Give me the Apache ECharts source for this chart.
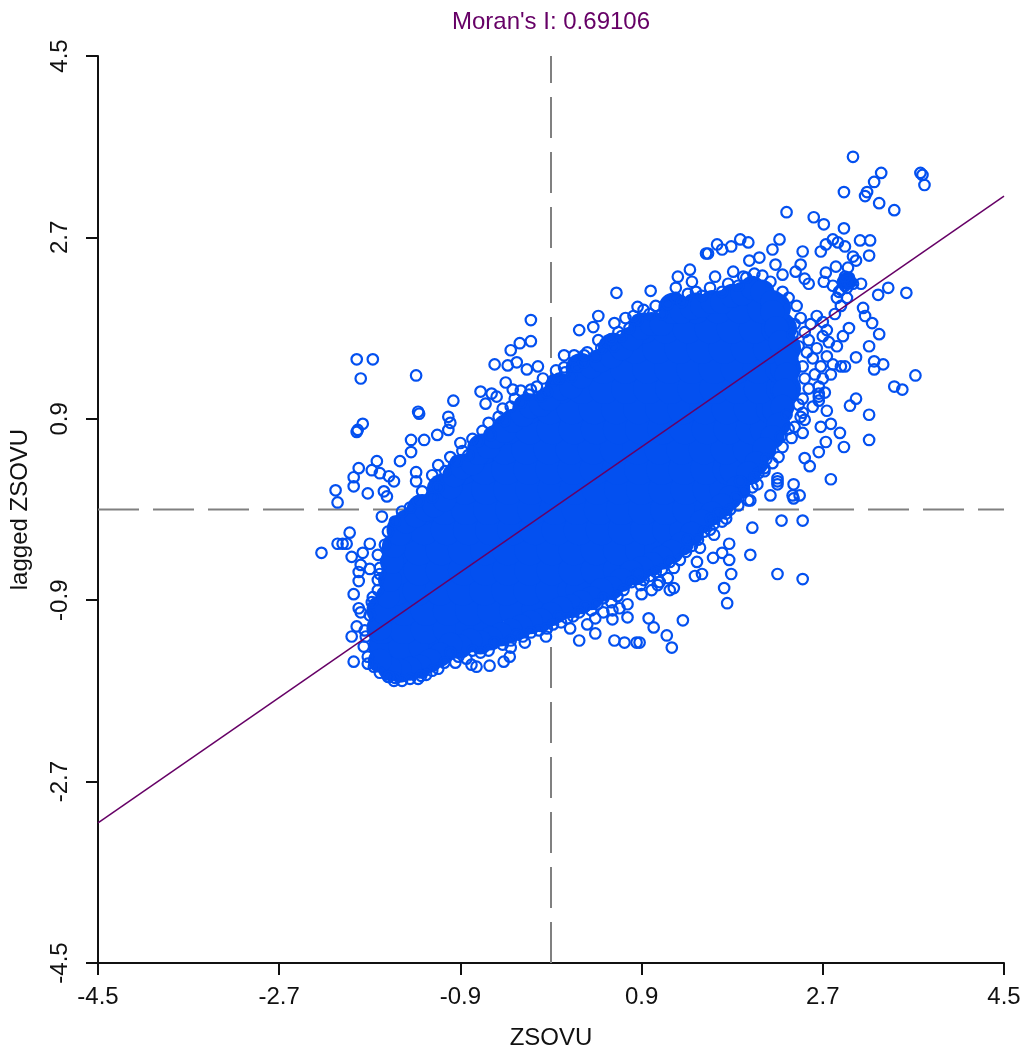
<!DOCTYPE html>
<html>
<head>
<meta charset="utf-8">
<title>Moran's I scatter</title>
<script src="https://cdn.jsdelivr.net/npm/echarts@6/dist/echarts.min.js"></script>
<style>
    html, body { margin: 0; padding: 0; background: #fff; }
    #chart { width: 1024px; height: 1055px; }
</style>
</head>
<body>
<div id="chart"></div>
<script>
// Tick labels
const xTicks = [-4.5, -2.7, -0.9, 0.9, 2.7, 4.5];
const yTicks = [-4.5, -2.7, -0.9, 0.9, 2.7, 4.5];

// Regression line and the two mean lines, ends
const fitLine = [[-4.5, -3.11], [4.5, 3.11]];
const meanLineH = [[-4.5, 0], [4.5, 0]];
const meanLineV = [[0, -4.5], [0, 4.5]];

// Solid middle of the cloud, too dense to read one by one: [y, [x, x, ...]] per row
const coreRows = [
    [-1.5, [-1.58, -1.38]],
    [-1.36, [-1.66, -1.46, -1.26, -1.06]],
    [-1.18, [-1.68, -1.46, -1.24, -1.02, -0.8, -0.62]],
    [-1, [-1.68, -1.46, -1.24, -1.02, -0.8, -0.58, -0.36, -0.14]],
    [-0.8, [-1.54, -1.32, -1.1, -0.88, -0.66, -0.44, -0.22, 0, 0.22, 0.3]],
    [-0.6, [-1.53, -1.31, -1.09, -0.87, -0.65, -0.43, -0.21, 0.01, 0.23, 0.45, 0.67, 0.83]],
    [-0.4, [-1.53, -1.31, -1.09, -0.87, -0.65, -0.43, -0.21, 0.01, 0.23, 0.45, 0.67, 0.89, 1.08]],
    [-0.2, [-1.48, -1.26, -1.04, -0.82, -0.6, -0.38, -0.16, 0.06, 0.28, 0.5, 0.72, 0.94, 1.16, 1.33]],
    [0, [-1.28, -1.06, -0.84, -0.62, -0.4, -0.18, 0.04, 0.26, 0.48, 0.7, 0.92, 1.14, 1.36, 1.58]],
    [0.2, [-1.08, -0.86, -0.64, -0.42, -0.2, 0.02, 0.24, 0.46, 0.68, 0.9, 1.12, 1.34, 1.56, 1.73]],
    [0.4, [-0.88, -0.66, -0.44, -0.22, 0, 0.22, 0.44, 0.66, 0.88, 1.1, 1.32, 1.54, 1.76, 1.83]],
    [0.6, [-0.68, -0.46, -0.24, -0.02, 0.2, 0.42, 0.64, 0.86, 1.08, 1.3, 1.52, 1.74, 1.96]],
    [0.8, [-0.43, -0.21, 0.01, 0.23, 0.45, 0.67, 0.89, 1.11, 1.33, 1.55, 1.77, 1.99, 2.13]],
    [1, [-0.23, -0.01, 0.21, 0.43, 0.65, 0.87, 1.09, 1.31, 1.53, 1.75, 1.97, 2.19, 2.25]],
    [1.2, [0.09, 0.31, 0.53, 0.75, 0.97, 1.19, 1.41, 1.63, 1.85, 2.07, 2.29, 2.33]],
    [1.4, [0.3, 0.52, 0.74, 0.96, 1.18, 1.4, 1.62, 1.84, 2.06, 2.28, 2.33]],
    [1.6, [0.62, 0.84, 1.06, 1.28, 1.5, 1.72, 1.94, 2.16, 2.33]],
    [1.8, [0.92, 1.14, 1.36, 1.58, 1.8, 2.02, 2.24, 2.29]],
    [2, [1.22, 1.44, 1.66, 1.88, 2.1, 2.23]]
];

// Solid band just inside the rim, where the circles merge
const rimInner = [
    [-1.7, -1.18], [-1.66, -1.02], [-1.62, -0.86], [-1.6, -0.7], [-1.58, -0.52], [-1.56, -0.36], [-1.5, -0.24],
    [-1.44, -0.12], [-1.34, -0.06], [-1.24, 0], [-1.16, 0.04], [-1.06, 0.1], [-1, 0.22], [-0.96, 0.34],
    [-0.88, 0.42], [-0.78, 0.46], [-0.72, 0.56], [-0.62, 0.62], [-0.56, 0.72], [-0.46, 0.78], [-0.38, 0.88],
    [-0.28, 0.94], [-0.2, 1.02], [-0.1, 1.04], [-0.02, 1.1], [0.1, 1.2], [0.2, 1.22], [0.3, 1.32],
    [0.4, 1.42], [0.5, 1.48], [0.6, 1.52], [0.7, 1.6], [0.8, 1.7], [0.9, 1.8], [1, 1.84],
    [1.1, 1.84], [1.2, 1.96], [1.3, 1.96], [1.4, 2], [1.5, 2.02], [1.6, 2.06], [1.7, 2.06],
    [1.8, 2.12], [1.9, 2.14], [2, 2.2], [2.1, 2.16], [2.2, 2.06], [2.2, 1.96], [2.24, 1.8],
    [2.28, 1.66], [2.34, 1.5], [2.34, 1.34], [2.32, 1.18], [2.3, 1.02], [2.26, 0.84], [2.2, 0.72],
    [2.12, 0.6], [2.04, 0.46], [1.96, 0.36], [1.86, 0.22], [1.78, 0.12], [1.7, 0.04], [1.6, -0.04],
    [1.5, -0.12], [1.4, -0.24], [1.3, -0.34], [1.2, -0.42], [1.1, -0.48], [1, -0.54], [0.9, -0.58],
    [0.8, -0.62], [0.7, -0.7], [0.6, -0.78], [0.5, -0.8], [0.4, -0.88], [0.3, -0.92], [0.2, -0.96],
    [0.1, -0.98], [0, -1.04], [-0.1, -1.1], [-0.2, -1.12], [-0.3, -1.16], [-0.4, -1.2], [-0.5, -1.24],
    [-0.6, -1.28], [-0.7, -1.32], [-0.8, -1.3], [-0.9, -1.36], [-1, -1.34], [-1.1, -1.44], [-1.2, -1.5],
    [-1.3, -1.56], [-1.4, -1.58], [-1.5, -1.6], [-1.6, -1.58], [-1.7, -1.5]
];

// Solid clump of overlapping circles at the upper right
const clumpPoints = [[2.94, 2.27]];

// Rim of the cloud, upper side from left to right
const rimUpper = [
    [-1.85, -1.2], [-1.8, -1.05], [-1.78, -0.92], [-1.72, -0.8], [-1.72, -0.7], [-1.7, -0.58], [-1.72, -0.45],
    [-1.65, -0.35], [-1.62, -0.22], [-1.55, -0.12], [-1.48, -0.02], [-1.4, 0.02], [-1.32, 0.08], [-1.28, 0.18],
    [-1.18, 0.12], [-1.12, 0.22], [-1.18, 0.34], [-1.12, 0.44], [-1.05, 0.38], [-1, 0.52], [-0.94, 0.48],
    [-0.88, 0.58], [-0.82, 0.54], [-0.9, 0.66], [-0.78, 0.7], [-0.72, 0.68], [-0.68, 0.78], [-0.6, 0.74],
    [-0.62, 0.86], [-0.52, 0.92], [-0.46, 0.88], [-0.48, 1], [-0.4, 1.02], [-0.36, 1.1], [-0.3, 1.06],
    [-0.3, 1.18], [-0.22, 1.14], [-0.14, 1.22], [-0.1, 1.12], [-0.04, 1.16], [0.02, 1.28], [0.08, 1.3],
    [0.14, 1.36], [0.2, 1.32], [0.26, 1.42], [0.32, 1.46], [0.36, 1.56], [0.44, 1.52], [0.5, 1.6],
    [0.56, 1.66], [0.62, 1.62], [0.7, 1.72], [0.78, 1.8], [0.74, 1.9], [0.86, 1.88], [0.92, 1.98],
    [0.98, 1.94], [1.04, 2.02], [1.1, 1.94], [1.16, 2.04], [1.24, 2.1], [1.3, 2.06], [1.36, 2.14],
    [1.44, 2.16], [1.5, 2.12], [1.58, 2.2], [1.7, 2.16], [1.76, 2.24], [1.86, 2.22], [1.94, 2.3],
    [2.02, 2.34], [2.1, 2.32], [2.18, 2.26]
];

// Rim of the cloud, right end including the loose clump near (2.9, 2.2)
const rimRight = [
    [2.3, 2.16], [2.36, 2.1], [2.44, 2.02], [2.48, 1.9], [2.42, 1.84], [2.52, 1.76], [2.58, 1.84],
    [2.64, 1.92], [2.7, 1.86], [2.74, 1.78], [2.82, 1.94], [2.88, 2.02], [2.94, 2.1], [2.86, 2.16],
    [2.8, 2.22], [2.92, 2.22], [2.9, 2.26], [2.96, 2.3], [3, 2.24], [2.94, 2.2], [2.88, 2.18], [2.84, 2.1],
    [2.94, 2.27], [2.97, 2.25], [2.92, 2.31], [2.56, 1.68], [2.64, 1.6], [2.7, 1.72], [2.76, 1.66],
    [2.84, 1.62], [2.9, 1.72], [2.96, 1.8], [2.6, 1.5], [2.68, 1.42], [2.74, 1.52], [2.8, 1.44],
    [2.62, 1.34], [2.7, 1.3], [2.78, 1.34], [2.66, 1.22], [2.72, 1.16], [2.6, 1.02], [2.56, 1.2],
    [2.52, 1.3], [2.5, 1.42], [2.54, 1.56], [2.46, 1.62], [2.4, 1.74]
];

// Rim of the cloud, lower side from right to left
const rimLower = [
    [2.46, 1.04], [2.48, 0.92], [2.42, 0.82], [2.34, 0.94], [2.36, 0.8], [2.28, 0.72], [2.3, 0.62],
    [2.26, 0.52], [2.2, 0.46], [2.14, 0.5], [2.12, 0.38], [2.06, 0.36], [2.02, 0.32], [2, 0.22],
    [1.92, 0.18], [1.88, 0.28], [1.84, 0.12], [1.86, 0.04], [1.78, 0], [1.74, -0.04], [1.7, -0.12],
    [1.62, -0.14], [1.66, -0.04], [1.58, -0.2], [1.52, -0.22], [1.46, -0.3], [1.4, -0.36], [1.34, -0.42],
    [1.36, -0.3], [1.28, -0.5], [1.22, -0.58], [1.18, -0.52], [1.1, -0.6], [1.04, -0.62], [1.16, -0.68],
    [1.08, -0.72], [0.98, -0.66], [0.92, -0.7], [0.86, -0.64], [0.8, -0.72], [0.72, -0.8], [0.66, -0.86],
    [0.6, -0.92], [0.52, -0.88], [0.46, -0.94], [0.4, -1], [0.34, -0.96], [0.28, -1.02], [0.22, -1.06],
    [0.16, -1.08], [0.08, -1.06], [0.02, -1.14], [-0.04, -1.18], [-0.12, -1.2], [-0.2, -1.22], [-0.28, -1.26],
    [-0.34, -1.24], [-0.4, -1.3], [-0.48, -1.34], [-0.56, -1.32], [-0.62, -1.4], [-0.7, -1.42], [-0.78, -1.4],
    [-0.84, -1.48], [-0.92, -1.46], [-1, -1.42], [-1.06, -1.52], [-1.12, -1.58], [-1.18, -1.6], [-1.24, -1.64],
    [-1.32, -1.68], [-1.4, -1.68], [-1.48, -1.7], [-1.56, -1.7], [-1.62, -1.66], [-1.7, -1.62], [-1.76, -1.56],
    [-1.82, -1.46], [-1.86, -1.36], [-1.84, -1.26], [0.36, -1.14], [0.44, -1.08], [0.52, -1.02], [0.68, -0.98],
    [0.76, -0.94], [0.9, -0.84], [1, -0.8], [1.18, -0.8]
];

// Separate points outside the cloud, upper right
const looseUpperRight = [
    [3, 3.5], [3.28, 3.34], [3.21, 3.25], [3.14, 3.15], [3.12, 3.11], [2.91, 3.15], [3.26, 3.04], [3.41, 2.97],
    [3.67, 3.34], [3.69, 3.32], [3.71, 3.22], [2.34, 2.95], [2.61, 2.9], [2.71, 2.83], [2.91, 2.79], [3.07, 2.67],
    [3.17, 2.67], [2.8, 2.68], [2.85, 2.65], [2.73, 2.63], [2.92, 2.61], [2.68, 2.56], [2.5, 2.56], [2.27, 2.68],
    [2.2, 2.58], [2.07, 2.5], [1.97, 2.47], [1.88, 2.68], [1.96, 2.65], [1.79, 2.61], [1.7, 2.58], [1.65, 2.63],
    [1.56, 2.54], [1.54, 2.54], [1.38, 2.38], [1.26, 2.31], [0.99, 2.17], [1.24, 2.2], [1.4, 2.26], [1.63, 2.31],
    [1.81, 2.36], [1.91, 2.31], [2.23, 2.43], [2.48, 2.43], [2.43, 2.36], [2.3, 2.33], [3, 2.51], [3.03, 2.47],
    [3.16, 2.52], [2.95, 2.4], [2.83, 2.41], [2.73, 2.35], [2.71, 2.26], [2.56, 2.24], [2.52, 2.29], [3.08, 2.24],
    [3.35, 2.2], [3.25, 2.13], [3.53, 2.15], [3.1, 2], [3.12, 1.92], [3.19, 1.85], [3.26, 1.74], [3.16, 1.62],
    [3.03, 1.51], [3.21, 1.47], [3.21, 1.39], [3.3, 1.44], [3.62, 1.33], [3.41, 1.22], [3.49, 1.19], [3.03, 1.1],
    [2.97, 1.03], [2.92, 1.42], [2.88, 1.42]
];

// Separate points outside the cloud, lower right
const looseLowerRight = [
    [3.16, 0.94], [3.16, 0.69], [2.78, 0.3], [2.78, 0.85], [2.68, 0.82], [2.87, 0.76], [2.73, 0.67], [2.91, 0.62],
    [2.66, 0.57], [2.57, 0.43], [2.52, 0.51], [2.74, 0.98], [2.5, 1.1], [2.5, 0.96], [2.52, 0.89], [2.5, 0.76],
    [2.39, 0.71], [2.66, 1.15], [2.66, 1.12], [2.66, 1.08], [2.41, 0.25], [2.25, 0.31], [2.25, 0.28], [2.25, 0.25],
    [2.18, 0.14], [2.47, 0.14], [2.4, 0.14], [2.41, 0.11], [1.96, 0.09], [1.98, 0.09], [2.05, 0.25], [2.12, 0.41],
    [2.29, -0.11], [2.5, -0.11], [2, -0.18], [1.98, -0.45], [2.25, -0.64], [2.5, -0.69], [1.79, -0.64], [1.72, -0.78],
    [1.75, -0.93], [1.77, -0.34], [1.7, -0.43], [1.61, -0.48], [1.77, -0.5], [1.62, -0.25], [1.59, -0.09], [1.74, -0.09],
    [1.5, -0.64], [1.43, -0.66], [1.45, -0.52], [1.48, -0.38], [1.22, -0.78], [1.06, -0.75], [0.89, -0.75], [1.31, -1.1],
    [0.97, -1.08], [1.02, -1.17], [1.15, -1.25], [1.2, -1.37], [0.88, -1.32]
];

// Separate points outside the cloud, upper left
const looseUpperLeft = [
    [-1.93, 1.49], [-1.77, 1.49], [-1.89, 1.3], [-1.34, 1.33], [-0.97, 1.08], [0.65, 2.15], [-0.2, 1.88], [-0.2, 1.67],
    [-0.31, 1.65], [-0.4, 1.58], [-0.56, 1.44], [-0.43, 1.43], [-0.34, 1.46], [-0.24, 1.39], [-0.13, 1.42], [-0.08, 1.3],
    [-0.45, 1.26], [-0.7, 1.17], [-0.2, 1.19], [0.47, 1.92], [0.42, 1.81], [0.28, 1.78], [0.63, 1.85], [0.86, 2.01],
    [0.47, 1.68], [0.6, 1.69], [0.67, 1.76], [0.23, 1.53], [0.33, 1.53], [0.13, 1.53], [0.05, 1.38], [0.13, 1.41],
    [0.82, 1.92], [-0.65, 1.05], [-0.54, 1.12], [-0.38, 1.19], [-0.59, 1.15], [-1.32, 0.97], [-1.31, 0.95], [-1.87, 0.85],
    [-1.92, 0.79], [-1.93, 0.77], [-1.02, 0.92], [-1, 0.86], [-1.02, 0.79], [-1.13, 0.74], [-1.39, 0.69], [-1.26, 0.69],
    [-1.39, 0.57], [-1.5, 0.48], [-1.73, 0.48], [-1.91, 0.41], [-1.78, 0.39], [-1.7, 0.36], [-1.96, 0.32], [-1.96, 0.23],
    [-1.82, 0.16], [-2.14, 0.19], [-2.12, 0.07], [-1.66, 0.18], [-1.63, 0.13], [-1.61, 0.33], [-1.56, 0.28], [-1.34, 0.37],
    [-1.34, 0.28]
];

// Separate points outside the cloud, lower left and underneath
const looseLowerLeft = [
    [-1.68, -0.07], [-2, -0.23], [-2.12, -0.34], [-2.07, -0.34], [-2.03, -0.34], [-2.28, -0.43], [-1.8, -0.34], [-1.98, -0.47],
    [-1.87, -0.43], [-1.89, -0.55], [-1.8, -0.59], [-1.91, -0.62], [-1.91, -0.71], [-1.7, -0.64], [-1.96, -0.84], [-1.77, -0.87],
    [-1.91, -0.98], [-1.89, -1.02], [-1.93, -1.16], [-1.98, -1.26], [-1.96, -1.51], [-1.82, -1.53], [-1.55, -1.67], [-1.61, -1.66],
    [-1.29, -1.65], [-0.74, -1.56], [-0.61, -1.55], [-0.47, -1.51], [-0.41, -1.46], [-0.4, -1.37], [-0.26, -1.32], [-0.05, -1.26],
    [0.1, -1.12], [0.19, -1.18], [0.28, -1.3], [0.44, -1.23], [0.63, -1.3], [0.73, -1.32], [0.85, -1.32], [0.61, -1.09],
    [0.61, -1], [0.76, -1.07], [-0.95, -1.52], [-0.79, -1.54]
];

const corePoints = coreRows.flatMap(row => row[1].map(x => [x, row[0]]));
const ringPoints = [].concat(rimUpper, rimRight, rimLower, looseUpperRight, looseLowerRight, looseUpperLeft, looseLowerLeft);

const pointBlue = '#0350f0';
const labelFont = 'Liberation Sans';

const chart = echarts.init(document.getElementById('chart'), null, { renderer: 'canvas' });

function plotAxis(ticks) {
    return {
        type: 'value',
        min: -4.5,
        max: 4.5,
        splitLine: { show: false },
        axisLine: { show: true, onZero: false, lineStyle: { color: '#111', width: 2 } },
        axisTick: { show: true, length: 12, customValues: ticks, lineStyle: { color: '#111', width: 2 } },
        axisLabel: {
            customValues: ticks,
            color: '#111',
            fontFamily: labelFont,
            fontSize: 24,
            showMinLabel: true,
            showMaxLabel: true
        },
        nameLocation: 'middle',
        nameTextStyle: { color: '#111', fontFamily: labelFont, fontSize: 24 }
    };
}

const xAxis = plotAxis(xTicks);
xAxis.name = 'ZSOVU';
xAxis.nameGap = 63;
xAxis.axisLabel.margin = 22;

const yAxis = plotAxis(yTicks);
yAxis.name = 'lagged ZSOVU';
yAxis.nameGap = 66;
yAxis.axisLabel.rotate = 90;
yAxis.axisLabel.margin = 26;

// Filled marks for the merged part of the cloud
function solidSeries(points, size) {
    return {
        type: 'scatter',
        data: points,
        symbolSize: size,
        z: 2,
        itemStyle: { color: pointBlue, opacity: 1 }
    };
}

chart.setOption({
    animation: false,
    backgroundColor: '#fff',
    title: {
        text: "Moran's I: 0.69106",
        left: 546,
        top: 5,
        textAlign: 'center',
        textStyle: { color: '#660066', fontFamily: labelFont, fontSize: 24, fontWeight: 'normal' }
    },
    grid: { left: 97, top: 56, width: 907, height: 907, containLabel: false },
    xAxis: xAxis,
    yAxis: yAxis,
    series: [
        {
            type: 'line',
            data: meanLineH,
            symbol: 'none',
            z: 1,
            lineStyle: { color: '#808080', width: 2, type: [41, 14] }
        },
        {
            type: 'line',
            data: meanLineV,
            symbol: 'none',
            z: 1,
            lineStyle: { color: '#808080', width: 2, type: [41, 14] }
        },
        solidSeries(corePoints, 31),
        solidSeries(rimInner, 24),
        solidSeries(clumpPoints, 18),
        {
            type: 'scatter',
            data: ringPoints,
            symbolSize: 10.5,
            z: 3,
            itemStyle: { color: 'rgba(0,0,0,0)', borderColor: pointBlue, borderWidth: 2.2, opacity: 1 }
        },
        {
            type: 'line',
            data: fitLine,
            symbol: 'none',
            z: 4,
            lineStyle: { color: '#660066', width: 1.5 }
        }
    ]
});
</script>
</body>
</html>
